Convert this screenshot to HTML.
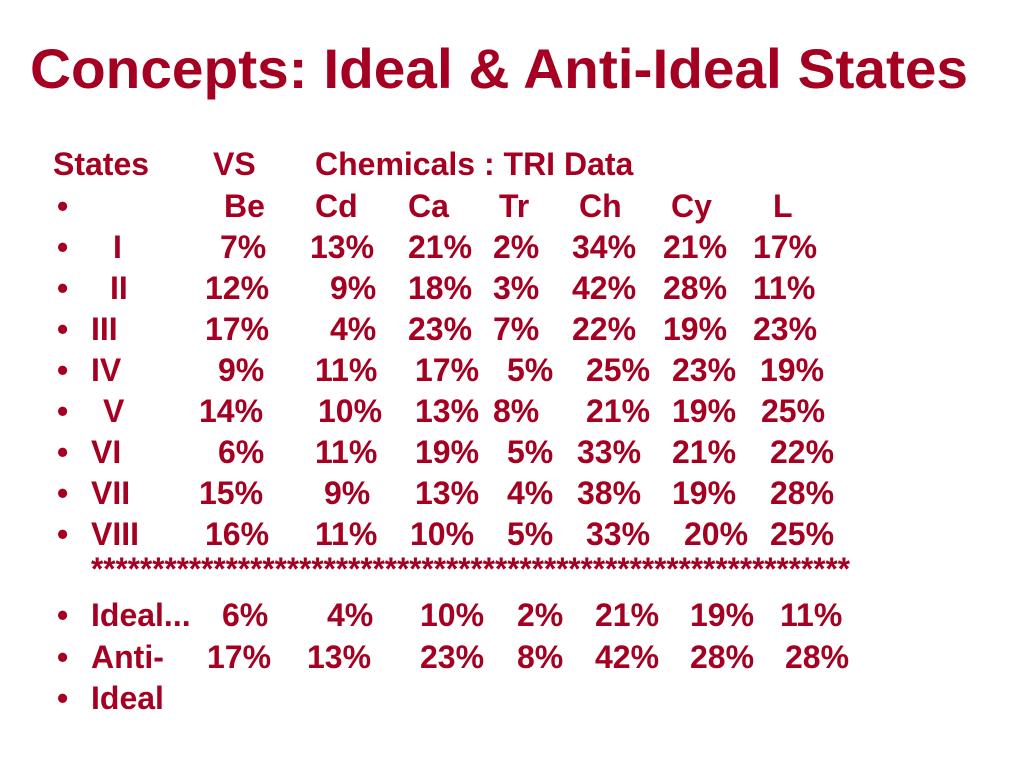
<!DOCTYPE html>
<html><head><meta charset="utf-8"><style>
html,body{margin:0;padding:0;background:#fff;}
svg{display:block;font-family:"Liberation Sans",Arial,sans-serif;font-weight:bold;fill:#A50021;}
</style></head><body>
<svg id="s" width="1024" height="768" viewBox="0 0 1024 768">
<text x="30" y="88" font-size="56" textLength="938" lengthAdjust="spacingAndGlyphs">Concepts: Ideal &amp; Anti-Ideal States</text>
<g font-size="32">
<text x="53" y="175">States</text>
<text x="213" y="175">VS</text>
<text x="315" y="175">Chemicals : TRI Data</text>
</g>
<text x="91" y="580" font-size="32" textLength="759" lengthAdjust="spacingAndGlyphs">**************************************************************</text>
</svg>
<script>
const chemicals=["Be","Cd","Ca","Tr","Ch","Cy","L"];
const states=["I","II","III","IV","V","VI","VII","VIII","Ideal...","Anti-"];
const v1=[7,12,17,9,14,6,15,16,6,17];
const v2=[13,9,4,11,10,11,9,11,4,13];
const v3=[21,18,23,17,13,19,13,10,10,23];
const v4=[2,3,7,5,8,5,4,5,2,8];
const v5=[34,42,22,25,21,33,38,33,21,42];
const v6=[21,28,19,23,19,21,19,20,19,28];
const v7=[17,11,23,19,25,22,28,25,11,28];
const series=[v1,v2,v3,v4,v5,v6,v7];
// layout only
const rowY=[258,299,340,381,422,463,504,545,626,668];
const labelX=[113,110,91,91,103,91,91,91,91,91];
const colX=[
[220,310,408,493,572,663,753],
[205,330,408,493,572,663,753],
[205,330,408,493,572,663,753],
[218,315,415,507,586,672,760],
[199,318,415,493,586,672,761],
[218,315,415,507,577,672,770],
[199,324,415,507,577,672,770],
[205,315,410,507,586,684,770],
[222,327,420,517,595,690,780],
[207,307,420,517,595,690,785]];
const headX=[224,315,408,499,579,671,773];
const svg=document.getElementById('s');
const NS='http://www.w3.org/2000/svg';
function t(x,y,str){const e=document.createElementNS(NS,'text');e.setAttribute('x',x);e.setAttribute('y',y);e.setAttribute('font-size','32');e.textContent=str;svg.appendChild(e);return e;}
let b=t(57,217,'•');


chemicals.forEach((c,i)=>{const e=t(headX[i],217,c);

});
states.forEach((s,r)=>{
 const bb=t(57,rowY[r],'•');
 
 
 const l=t(labelX[r],rowY[r],s);
 
 
 series.forEach((arr,c)=>{const e=t(colX[r][c],rowY[r],arr[r]+'%');
 
 });
});
const b2=t(57,709,'•');


const id=t(91,709,'Ideal');


</script>
</body></html>
